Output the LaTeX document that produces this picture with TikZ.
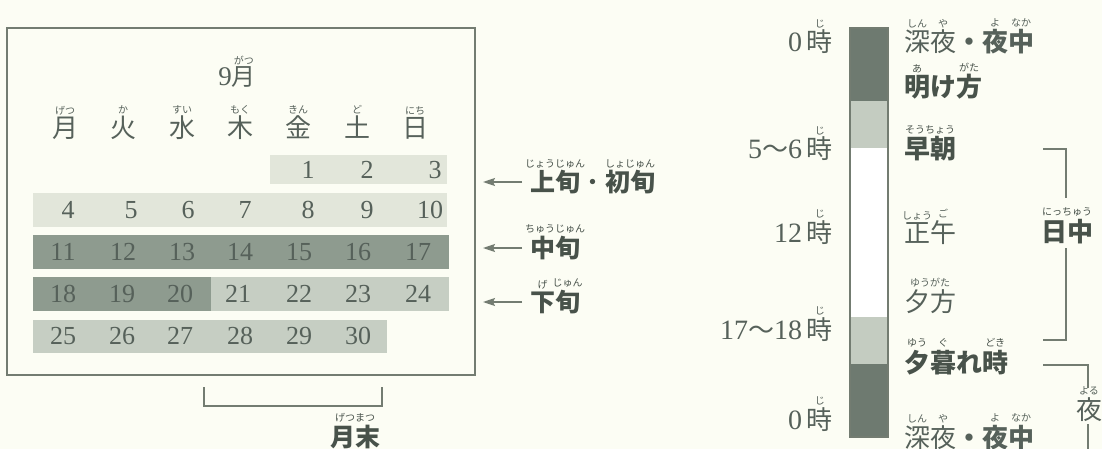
\documentclass[tikz,border=0pt]{standalone}
\usepackage{fontspec}
\usetikzlibrary{arrows.meta}
\newfontfamily\jp{Noto Sans CJK JP}
\newfontfamily\dig{Liberation Serif}
\definecolor{bg}{HTML}{FCFDF4}
\definecolor{ln}{HTML}{737C71}
\definecolor{txt}{HTML}{56615A}
\definecolor{txtb}{HTML}{48524A}
\definecolor{bandA}{HTML}{E2E6DA}
\definecolor{bandB}{HTML}{C6CEC3}
\definecolor{bandC}{HTML}{8E9B8F}
\definecolor{barD}{HTML}{6E7A70}
\definecolor{barL}{HTML}{C4CCC1}
\newcommand\rubyfont{\jp\mdseries\fontsize{10}{10}\selectfont}
\newcommand\rb[2]{\leavevmode\setbox0=\hbox{#1}\raise\dimexpr\ht0+3pt\relax\hbox to\wd0{\hss{\rubyfont #2}\hss}\kern-\wd0\box0}
\newcommand\jt{\jp\fontsize{26}{26}\selectfont}
\tikzset{
  num/.style={text=txt,font=\dig\fontsize{26}{26}\selectfont,inner sep=0pt},
  wd/.style={text=txt,font=\jp\fontsize{26}{26}\selectfont,anchor=base,inner sep=0pt},
  tl/.style={text=txt,font=\dig\fontsize{28}{28}\selectfont,anchor=base east,inner sep=0pt},
  pl/.style={text=txt,font=\jp\fontsize{26}{26}\selectfont,anchor=base west,inner sep=0pt},
  plb/.style={pl,text=txtb,font=\jp\bfseries\fontsize{26}{26}\selectfont},
  lab/.style={text=txtb,font=\jp\bfseries\fontsize{25}{25}\selectfont,anchor=base west,inner sep=0pt},
  brk/.style={draw=ln,line width=1.1pt},
  arr/.style={draw=ln,line width=1.4pt,-{Stealth[length=12pt,width=8pt,inset=2pt]}},
}
\begin{document}
\begin{tikzpicture}[x=1pt,y=-1pt]
\fill[bg] (0,0) rectangle (1102,449);
\useasboundingbox (0,0) rectangle (1102,449);
% ---------- calendar ----------
\fill[bandA] (270,155) rectangle (447,184);
\fill[bandA] (33,193) rectangle (447,227);
\fill[bandC] (33,235) rectangle (449,269);
\fill[bandC] (33,277) rectangle (211,311);
\fill[bandB] (211,277) rectangle (449,311);
\fill[bandB] (33,320) rectangle (387,353);
\draw[brk] (7,28) rectangle (475,375);
\node[anchor=base,text=txt,font=\dig\fontsize{27}{27}\selectfont,inner sep=0pt] (month) at (237,86) {9{\jp\fontsize{24}{24}\selectfont\rb{月}{がつ}}};
\foreach \w/\r/\x in {月/げつ/65,火/か/123,水/すい/182,木/もく/240,金/きん/298,土/ど/357,日/にち/415}
  \node[wd] (w\x) at (\x,138) {\rb{\w}{\r}};
\foreach \n/\x in {1/308,2/367,3/435} \node[num] (d\n) at (\x,170) {\n};
\foreach \n/\x in {4/68,5/131,6/188,7/245,8/308,9/367,10/430} \node[num] (d\n) at (\x,210) {\n};
\foreach \n/\x in {11/63,12/123,13/182,14/240,15/299,16/358,17/418} \node[num] (d\n) at (\x,252) {\n};
\foreach \n/\x in {18/63,19/122,20/180,21/238,22/299,23/358,24/418} \node[num] (d\n) at (\x,294) {\n};
\foreach \n/\x in {25/63,26/122,27/180,28/240,29/299,30/358} \node[num] (d\n) at (\x,336) {\n};
% bracket month end
\coordinate (me1) at (204,387); \coordinate (me2) at (204,406);
\coordinate (me3) at (382,406); \coordinate (me4) at (382,387);
\draw[brk] (me1) -- (me2) -- (me3) -- (me4);
\node[lab,anchor=base] (getsumatsu) at (355,446) {\rb{月末}{げつまつ}};
% arrows and labels
\node[lab] (jojun) at (530,192) {\rb{上旬}{じょうじゅん}{\mdseries ・}\rb{初旬}{しょじゅん}};
\coordinate (a1s) at (522,182); \coordinate (a1e) at (483,182);
\draw[arr] (a1s) -- (a1e);
\node[lab] (chujun) at (530,257) {\rb{中旬}{ちゅうじゅん}};
\coordinate (a2s) at (522,248); \coordinate (a2e) at (483,248);
\draw[arr] (a2s) -- (a2e);
\node[lab] (gejun) at (530,311) {\rb{下}{げ}\rb{旬}{じゅん}};
\coordinate (a3s) at (522,302); \coordinate (a3e) at (483,302);
\draw[arr] (a3s) -- (a3e);
% ---------- time bar ----------
\fill[barD] (850,28) rectangle (888,101);
\fill[barL] (850,101) rectangle (888,148);
\fill[white] (850,148) rectangle (888,317);
\fill[barL] (850,317) rectangle (888,364);
\fill[barD] (850,364) rectangle (888,437);
\draw[draw=ln,line width=1.1pt] (850,28) rectangle (888,437);
\node[tl] (t0) at (833,52) {0\,{\jt\rb{時}{じ}}};
\node[tl] (t5) at (833,159) {5{\jt 〜}6\,{\jt\rb{時}{じ}}};
\node[tl] (t12) at (833,242) {12\,{\jt\rb{時}{じ}}};
\node[tl] (t17) at (833,339) {17{\jt 〜}18\,{\jt\rb{時}{じ}}};
\node[tl] (t24) at (833,429) {0\,{\jt\rb{時}{じ}}};
\node[pl] (p1) at (904,52) {\rb{深}{しん}\rb{夜}{や}{\bfseries ・\rb{夜}{よ}\rb{中}{なか}}};
\node[plb] (p2) at (904,97) {\rb{明}{あ}け\rb{方}{がた}};
\node[plb] (p3) at (904,159) {\rb{早朝}{そうちょう}};
\node[pl] (p4) at (904,242) {\rb{正}{しょう}\rb{午}{ご}};
\node[pl] (p5) at (904,311) {\rb{夕方}{ゆうがた}};
\node[plb] (p6) at (904,372) {\rb{夕}{ゆう}\rb{暮}{ぐ}れ\rb{時}{どき}};
\node[pl] (p7) at (904,447) {\rb{深}{しん}\rb{夜}{や}{\bfseries ・\rb{夜}{よ}\rb{中}{なか}}};
% brackets right
\node[plb,anchor=base] (nicchu) at (1067,241) {\rb{日中}{にっちゅう}};
\coordinate (n1) at (1043,149); \coordinate (n2) at (1066,149); \coordinate (n3) at (1066,198);
\coordinate (n4) at (1066,248); \coordinate (n5) at (1066,340); \coordinate (n6) at (1043,340);
\draw[brk] (n1) -- (n2) -- (n3);
\draw[brk] (n4) -- (n5) -- (n6);
\node[pl,anchor=base] (yoru) at (1089,419) {\rb{夜}{よる}};
\coordinate (y1) at (1043,365); \coordinate (y2) at (1088,365); \coordinate (y3) at (1088,388);
\coordinate (y4) at (1088,424); \coordinate (y5) at (1088,449);
\draw[brk] (y1) -- (y2) -- (y3);
\draw[brk] (y4) -- (y5);
\end{tikzpicture}
\end{document}
